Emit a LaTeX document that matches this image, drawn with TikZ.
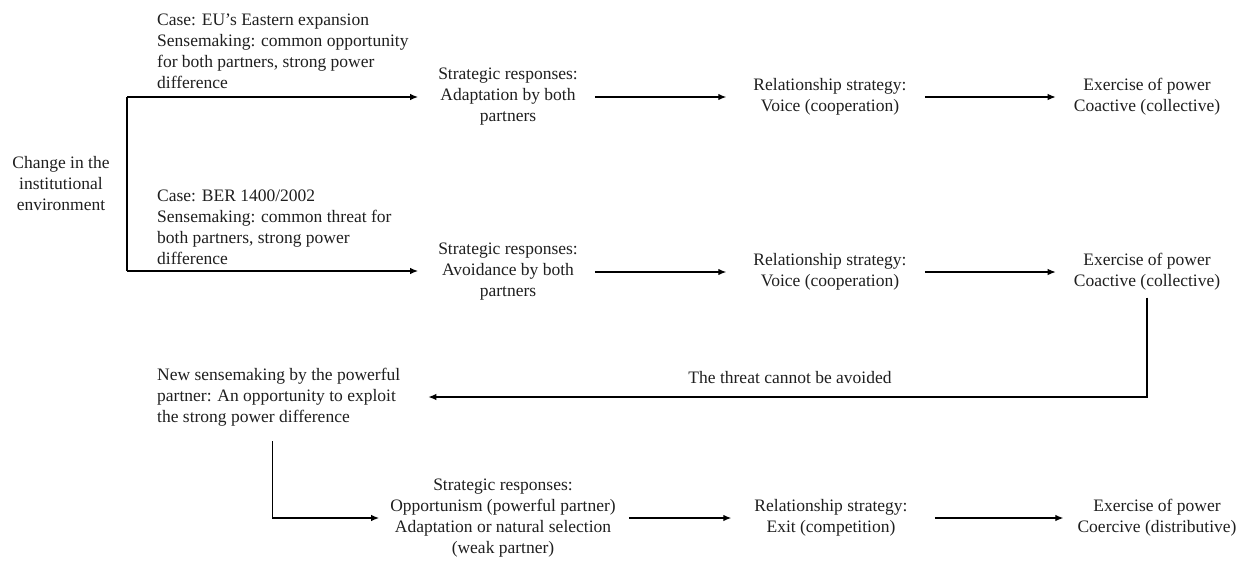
\documentclass[tikz,border=0pt]{standalone}
\usepackage{fontspec}
\setmainfont{Liberation Serif}
\usetikzlibrary{arrows.meta}
\begin{document}
\begin{tikzpicture}[x=1pt,y=-1pt,
  txt/.style={font=\fontsize{17.5}{21}\selectfont, inner sep=0pt, text=black!88},
  ctr/.style={txt, align=center},
  lft/.style={txt, align=left, anchor=west},
  ln/.style={draw=black, line width=1.2pt},
  arr/.style={ln, -{Latex[length=8pt,width=6.5pt]}}]
\useasboundingbox (0,0) rectangle (1245,565);

% nodes
\node[ctr] (chg) at (61,184) {Change in the\\institutional\\environment};
\node[lft] (case1) at (157,51) {Case: EU’s Eastern expansion\\Sensemaking: common opportunity\\for both partners, strong power\\difference};
\node[lft] (case2) at (157,227) {Case: BER 1400/2002\\Sensemaking: common threat for\\both partners, strong power\\difference};

\node[ctr] (s1) at (508,97) {Strategic responses:\\Adaptation by both\\partners};
\node[ctr] (r1) at (830,97) {Relationship strategy:\\Voice (cooperation)};
\node[ctr] (e1) at (1147,97) {Exercise of power\\Coactive (collective)};

\node[ctr] (s2) at (508,272) {Strategic responses:\\Avoidance by both\\partners};
\node[ctr] (r2) at (830,272) {Relationship strategy:\\Voice (cooperation)};
\node[ctr] (e2) at (1147,272) {Exercise of power\\Coactive (collective)};

\node[lft] (new) at (157,397) {New sensemaking by the powerful\\partner: An opportunity to exploit\\the strong power difference};
\node[ctr] (thr) at (790,378) {The threat cannot be avoided};

\node[ctr] (s3) at (503,518) {Strategic responses:\\Opportunism (powerful partner)\\Adaptation or natural selection\\(weak partner)};
\node[ctr] (r3) at (831,518) {Relationship strategy:\\Exit (competition)};
\node[ctr] (e3) at (1157,518) {Exercise of power\\Coercive (distributive)};

% branch from the change
\coordinate (b1) at (127,97);
\coordinate (b2) at (127,271);
\draw[ln] (b1) -- (b2);
\draw[arr, shorten >=20pt] (b1) -- (b1 -| s1.west);
\draw[arr, shorten >=20pt] (b2) -- (b2 -| s2.west);

% row 1
\draw[arr, shorten <=17pt, shorten >=27pt] (s1.east) -- (r1.west);
\draw[arr, shorten <=18pt, shorten >=18pt] (r1.east) -- (e1.west);

% row 2
\draw[arr, shorten <=17pt, shorten >=27pt] (s2.east) -- (r2.west);
\draw[arr, shorten <=18pt, shorten >=18pt] (r2.east) -- (e2.west);

% feedback
\draw[arr, shorten <=7pt, shorten >=28pt] (e2.south) |- (new.east);

% row 3
\draw[arr, shorten >=11pt] ([xshift=-6pt,yshift=-15pt]new.south) |- (s3.west);
\draw[arr, shorten <=13pt, shorten >=23pt] (s3.east) -- (r3.west);
\draw[arr, shorten <=27pt, shorten >=14pt] (r3.east) -- (e3.west);
\end{tikzpicture}
\end{document}
